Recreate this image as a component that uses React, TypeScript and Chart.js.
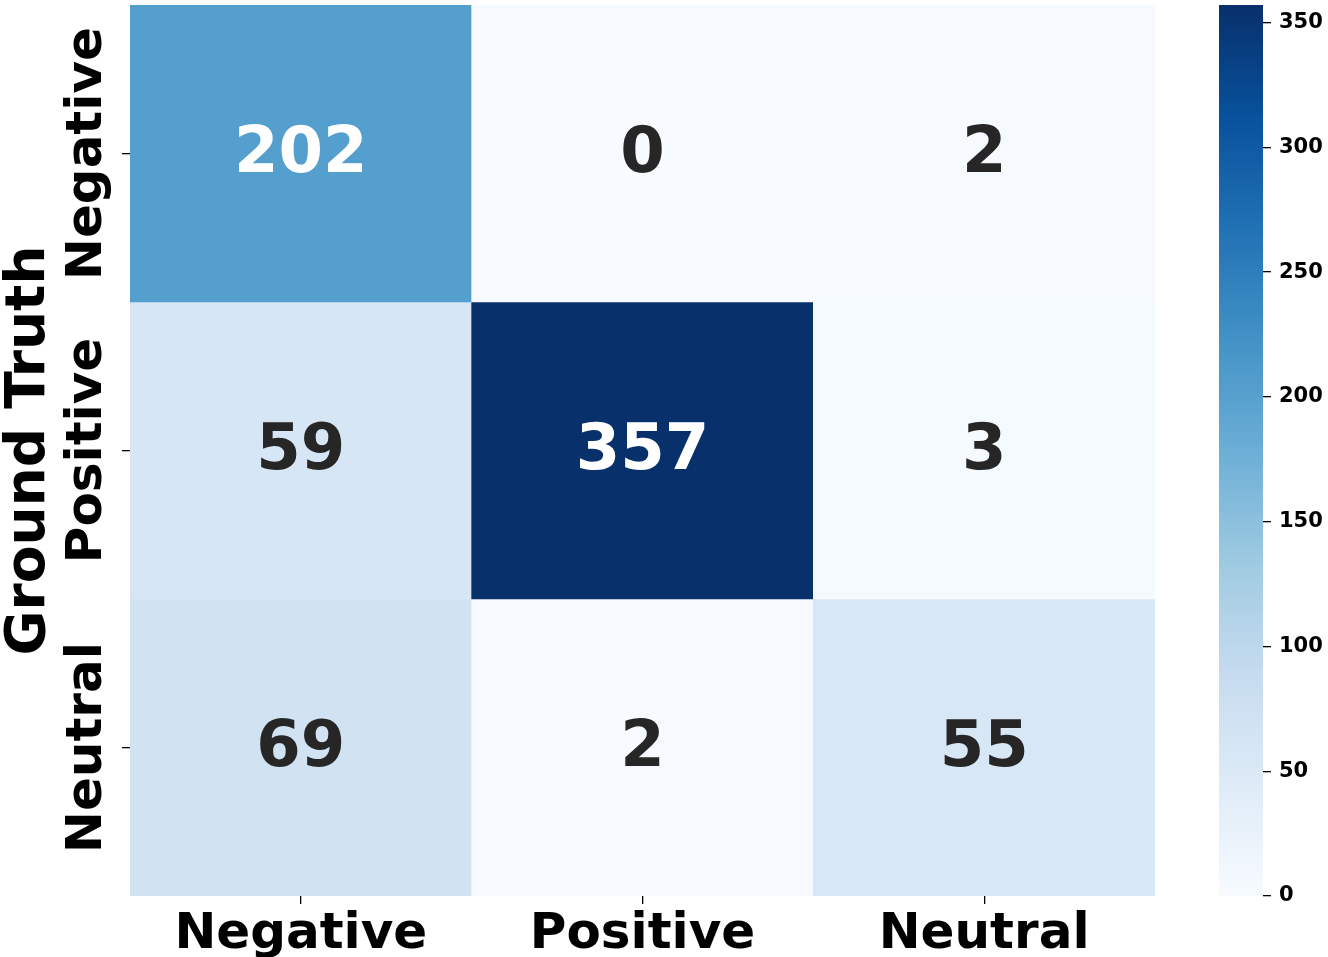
import React, { useEffect, useRef } from "react";
import { Chart, registerables } from "chart.js";

Chart.register(...registerables);

// ---- data ----
const predictedLabels = ["Negative", "Positive", "Neutral"];
const truthLabels = ["Negative", "Positive", "Neutral"];
const negativeRow = [202, 0, 2];
const positiveRow = [59, 357, 3];
const neutralRow = [69, 2, 55];
const matrixRows = [negativeRow, positiveRow, neutralRow];
const colorbarTicks = [0, 50, 100, 150, 200, 250, 300, 350];
const yAxisTitle = "Ground Truth";

// ---- colormap (matplotlib Blues) ----
const BLUES = ["#f7fbff", "#deebf7", "#c6dbef", "#9ecae1", "#6baed6", "#4292c6", "#2171b5", "#08519c", "#08306b"];
const FONT = "'DejaVu Sans', 'Liberation Sans', sans-serif";

function hexToRgb(h: string) {
  const n = parseInt(h.slice(1), 16);
  return [(n >> 16) & 255, (n >> 8) & 255, n & 255];
}
function blues(t: number): number[] {
  const x = Math.max(0, Math.min(1, t)) * (BLUES.length - 1);
  const i = Math.min(Math.floor(x), BLUES.length - 2);
  const f = x - i;
  const a = hexToRgb(BLUES[i]);
  const b = hexToRgb(BLUES[i + 1]);
  return [0, 1, 2].map((k) => Math.round(a[k] + (b[k] - a[k]) * f));
}
function rgbStr(c: number[]) {
  return `rgb(${c[0]},${c[1]},${c[2]})`;
}
function textColorFor(c: number[]) {
  const lin = c.map((v) => {
    const s = v / 255;
    return s <= 0.03928 ? s / 12.92 : Math.pow((s + 0.055) / 1.055, 2.4);
  });
  const l = 0.2126 * lin[0] + 0.7152 * lin[1] + 0.0722 * lin[2];
  return l > 0.408 ? "#262626" : "#ffffff";
}

const allValues = matrixRows.flat();
const vmin = Math.min(...allValues);
const vmax = Math.max(...allValues);
const norm = (v: number) => (v - vmin) / (vmax - vmin);

export default function App() {
  const mainRef = useRef<HTMLCanvasElement>(null);
  const cbRef = useRef<HTMLCanvasElement>(null);

  useEffect(() => {
    const heatPlugin = {
      id: "heatText",
      afterDatasetsDraw(chart: any) {
        const ctx = chart.ctx;
        chart.data.datasets.forEach((_ds: any, i: number) => {
          const meta = chart.getDatasetMeta(i);
          meta.data.forEach((bar: any, j: number) => {
            const v = matrixRows[i][j];
            const c = blues(norm(v));
            const cx = bar.x;
            const cy = (bar.y + bar.base) / 2;
            ctx.save();
            ctx.font = `bold 64px ${FONT}`;
            ctx.fillStyle = textColorFor(c);
            ctx.textAlign = "center";
            ctx.textBaseline = "alphabetic";
            ctx.fillText(String(v), cx, cy + 18.5);
            ctx.restore();
          });
        });
      },
      afterDraw(chart: any) {
        const ctx = chart.ctx;
        const y = chart.scales.y;
        ctx.save();
        ctx.fillStyle = "#000";
        ctx.textAlign = "center";
        ctx.textBaseline = "alphabetic";
        ctx.font = `bold 50px ${FONT}`;
        truthLabels.forEach((lab, i) => {
          const py = y.getPixelForValue(i + 0.5);
          ctx.save();
          ctx.translate(101, py);
          ctx.rotate(-Math.PI / 2);
          ctx.fillText(lab, 0, 0);
          ctx.restore();
        });
        ctx.font = `bold 55px ${FONT}`;
        const area = chart.chartArea;
        ctx.translate(44, (area.top + area.bottom) / 2);
        ctx.rotate(-Math.PI / 2);
        ctx.fillText(yAxisTitle, 0, 0);
        ctx.restore();
      },
    };

    const datasets = matrixRows.map((row, i) => ({
      label: truthLabels[i],
      data: row.map(() => [i, i + 1]),
      backgroundColor: row.map((v) => rgbStr(blues(norm(v)))),
      borderWidth: 0,
      barPercentage: 1,
      categoryPercentage: 1,
    }));

    const main = new Chart(mainRef.current!, {
      type: "bar",
      data: { labels: predictedLabels, datasets: datasets as any },
      options: {
        animation: false,
        responsive: false,
        layout: { padding: { top: 5, right: 5, left: 0, bottom: 0 } },
        plugins: { legend: { display: false }, tooltip: { enabled: false } },
        scales: {
          x: {
            type: "category",
            stacked: true,
            offset: true,
            afterFit: (s: any) => {
              s.height = 61;
              s.paddingLeft = 0;
              s.paddingRight = 0;
            },
            grid: { offset: false, drawOnChartArea: false, drawTicks: true, tickLength: 8, color: "#000", lineWidth: 1.3 },
            border: { display: false },
            ticks: { color: "#000", font: { family: FONT, size: 50, weight: "bold" }, padding: 1, maxRotation: 0, minRotation: 0 },
          },
          y: {
            type: "linear",
            stacked: false,
            min: 0,
            max: truthLabels.length,
            reverse: true,
            afterFit: (s: any) => {
              s.width = 130;
              s.paddingTop = 0;
              s.paddingBottom = 0;
            },
            afterBuildTicks: (s: any) => {
              s.ticks = truthLabels.map((_l, i) => ({ value: i + 0.5 }));
            },
            grid: { drawOnChartArea: false, drawTicks: true, tickLength: 8, color: "#000", lineWidth: 1.3 },
            border: { display: false },
            ticks: { display: false },
          },
        },
      },
      plugins: [heatPlugin],
    });

    const cbMax = vmax;
    const cb = new Chart(cbRef.current!, {
      type: "bar",
      data: {
        labels: ["colorbar"],
        datasets: [
          {
            data: [[vmin, cbMax]],
            borderWidth: 0,
            barPercentage: 1,
            categoryPercentage: 1,
            backgroundColor: (ctx: any) => {
              const chart = ctx.chart;
              const ys = chart.scales?.y;
              if (!chart.chartArea || !ys) return BLUES[0];
              const g = chart.ctx.createLinearGradient(0, ys.getPixelForValue(vmin), 0, ys.getPixelForValue(cbMax));
              BLUES.forEach((c, i) => g.addColorStop(i / (BLUES.length - 1), c));
              return g;
            },
          } as any,
        ],
      },
      options: {
        animation: false,
        responsive: false,
        layout: { padding: { top: 5, bottom: 61, left: 0, right: 0 } },
        plugins: { legend: { display: false }, tooltip: { enabled: false } },
        scales: {
          x: { display: false, offset: true },
          y: {
            position: "right",
            min: vmin,
            max: cbMax,
            afterFit: (s: any) => {
              s.width = 65;
              s.paddingTop = 0;
              s.paddingBottom = 0;
            },
            afterBuildTicks: (s: any) => {
              s.ticks = colorbarTicks.map((v) => ({ value: v }));
            },
            grid: { drawOnChartArea: false, drawTicks: true, tickLength: 8, color: "#000", lineWidth: 1.3 },
            border: { display: false },
            ticks: { color: "#000", padding: 8, font: { family: FONT, size: 21, weight: "bold" } },
          },
        },
      },
    });

    return () => {
      main.destroy();
      cb.destroy();
    };
  }, []);

  return (
    <div style={{ position: "fixed", left: 0, top: 0, width: 1328, height: 957, background: "#fff", overflow: "hidden" }}>
      <canvas ref={mainRef} width={1160} height={957} style={{ position: "absolute", left: 0, top: 0 }} />
      <canvas ref={cbRef} width={109} height={957} style={{ position: "absolute", left: 1219, top: 0 }} />
    </div>
  );
}
